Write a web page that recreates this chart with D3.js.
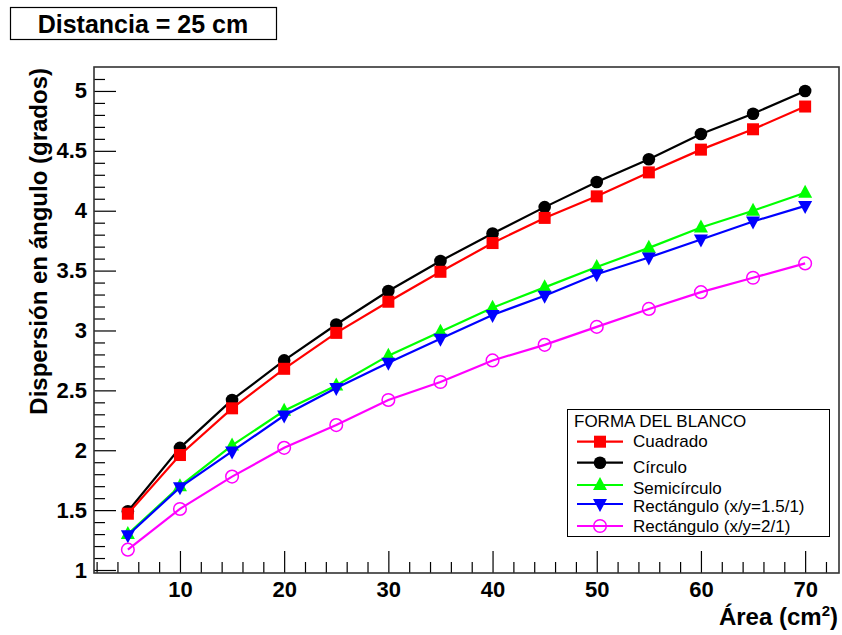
<!DOCTYPE html>
<html>
<head>
<meta charset="utf-8">
<script src="https://cdn.jsdelivr.net/npm/d3@7"></script>
<style>
  body { margin: 0; background: #fff; }
  svg { display: block; font-family: "Liberation Sans", Arial, sans-serif; }
</style>
</head>
<body>
<svg id="chart"></svg>
<script>
// datos
const area = [5, 10, 15, 20, 25, 30, 35, 40, 45, 50, 55, 60, 65, 70];
const cuadrado = [1.47, 1.96, 2.35, 2.68, 2.98, 3.24, 3.49, 3.73, 3.94, 4.12, 4.32, 4.51, 4.68, 4.87];
const circulo = [1.49, 2.02, 2.42, 2.75, 3.05, 3.33, 3.58, 3.81, 4.03, 4.24, 4.43, 4.64, 4.81, 5.00];
const semicirculo = [1.30, 1.70, 2.04, 2.33, 2.54, 2.79, 2.99, 3.19, 3.36, 3.53, 3.69, 3.86, 4.00, 4.15];
const rect15 = [1.29, 1.69, 1.99, 2.29, 2.52, 2.73, 2.93, 3.13, 3.29, 3.47, 3.61, 3.76, 3.91, 4.04];
const rect2 = [1.17, 1.51, 1.78, 2.02, 2.21, 2.42, 2.57, 2.75, 2.88, 3.03, 3.18, 3.32, 3.44, 3.56];

const nombres = ["Cuadrado", "Círculo", "Semicírculo", "Rectángulo (x/y=1.5/1)", "Rectángulo (x/y=2/1)"];
const xTicks = [10, 20, 30, 40, 50, 60, 70];
const yTicks = [1, 1.5, 2, 2.5, 3, 3.5, 4, 4.5, 5];

const wSvg = 842;
const hSvg = 635;
const frame = { left: 94, top: 67, right: 839, bottom: 573 };

const series = [
  { name: nombres[0], values: cuadrado, color: "#ff0000", marker: "square" },
  { name: nombres[1], values: circulo, color: "#000000", marker: "circle" },
  { name: nombres[2], values: semicirculo, color: "#00ff00", marker: "triangleUp" },
  { name: nombres[3], values: rect15, color: "#0000ff", marker: "triangleDown" },
  { name: nombres[4], values: rect2, color: "#ff00ff", marker: "openCircle" }
];
// orden de dibujo: el circulo negro queda debajo del cuadrado rojo
const drawOrder = [1, 0, 2, 3, 4];

const svg = d3.select("#chart")
  .attr("width", wSvg)
  .attr("height", hSvg);

svg.append("rect")
  .attr("width", wSvg)
  .attr("height", hSvg)
  .attr("fill", "#fff");

const x = d3.scaleLinear()
  .domain([1.75, 73.25])
  .range([frame.left, frame.right]);

const y = d3.scaleLinear()
  .domain([0.975, 5.2])
  .range([frame.bottom, frame.top]);

// ejes
const yMinor = d3.range(10, 52, 1).map(d => d / 10).filter(d => d % 0.5 !== 0);
const xMinor = d3.range(2, 74, 2).filter(d => d % 10 !== 0);

svg.append("g")
  .attr("transform", `translate(${frame.left},0)`)
  .call(d3.axisLeft(y).tickValues(yMinor).tickSize(-11).tickFormat(""))
  .call(g => g.select(".domain").remove());

svg.append("g")
  .attr("transform", `translate(${frame.left},0)`)
  .call(d3.axisLeft(y).tickValues(yTicks).tickSize(-22).tickPadding(7).tickFormat(d3.format("")))
  .call(g => g.select(".domain").remove())
  .selectAll("text")
  .attr("font-size", 22)
  .attr("font-weight", "bold")
  .attr("fill", "#000");

svg.append("g")
  .attr("transform", `translate(0,${frame.bottom})`)
  .call(d3.axisBottom(x).tickValues(xMinor).tickSize(-11).tickFormat(""))
  .call(g => g.select(".domain").remove());

svg.append("g")
  .attr("transform", `translate(0,${frame.bottom})`)
  .call(d3.axisBottom(x).tickValues(xTicks).tickSize(-22).tickPadding(8))
  .call(g => g.select(".domain").remove())
  .selectAll("text")
  .attr("font-size", 22)
  .attr("font-weight", "bold")
  .attr("fill", "#000");

svg.selectAll(".tick line").attr("stroke", "#000").attr("stroke-width", 1.2);

// marco
svg.append("rect")
  .attr("x", frame.left)
  .attr("y", frame.top)
  .attr("width", frame.right - frame.left)
  .attr("height", frame.bottom - frame.top)
  .attr("fill", "none")
  .attr("stroke", "#333")
  .attr("stroke-width", 1.6);

// titulos de ejes
svg.append("text")
  .attr("transform", `translate(47,${frame.top + 1}) rotate(-90)`)
  .attr("text-anchor", "end")
  .attr("font-size", 24)
  .attr("font-weight", "bold")
  .text("Dispersión en ángulo (grados)");

const xTitle = svg.append("text")
  .attr("x", 838)
  .attr("y", 625)
  .attr("text-anchor", "end")
  .attr("font-size", 24)
  .attr("font-weight", "bold");
xTitle.append("tspan").text("Área (cm");
xTitle.append("tspan").attr("font-size", 15).attr("dy", -9).text("2");
xTitle.append("tspan").attr("dy", 9).text(")");

// caja del titulo
svg.append("rect")
  .attr("x", 10.5)
  .attr("y", 7.5)
  .attr("width", 266)
  .attr("height", 32)
  .attr("fill", "#fff")
  .attr("stroke", "#000")
  .attr("stroke-width", 1.2);

svg.append("text")
  .attr("x", 143)
  .attr("y", 33)
  .attr("text-anchor", "middle")
  .attr("font-size", 25)
  .attr("font-weight", "bold")
  .text("Distancia = 25 cm");

function drawMarker(g, type, color, cx, cy) {
  if (type === "square") {
    g.append("rect")
      .attr("x", cx - 6).attr("y", cy - 6)
      .attr("width", 12).attr("height", 12)
      .attr("fill", color);
  } else if (type === "circle") {
    g.append("circle")
      .attr("cx", cx).attr("cy", cy).attr("r", 6.3)
      .attr("fill", color);
  } else if (type === "triangleUp") {
    g.append("path")
      .attr("d", `M${cx},${cy - 8}L${cx + 7},${cy + 5}L${cx - 7},${cy + 5}Z`)
      .attr("fill", color);
  } else if (type === "triangleDown") {
    g.append("path")
      .attr("d", `M${cx},${cy + 8}L${cx + 7},${cy - 5}L${cx - 7},${cy - 5}Z`)
      .attr("fill", color);
  } else {
    g.append("circle")
      .attr("cx", cx).attr("cy", cy).attr("r", 6.3)
      .attr("fill", "none")
      .attr("stroke", color)
      .attr("stroke-width", 1.5);
  }
}

const line = d3.line()
  .x(d => x(d.area))
  .y(d => y(d.value));

for (let i of drawOrder) {
  let s = series[i];
  let points = area.map((a, j) => ({ area: a, value: s.values[j] }));
  let g = svg.append("g");

  g.append("path")
    .datum(points)
    .attr("d", line)
    .attr("fill", "none")
    .attr("stroke", s.color)
    .attr("stroke-width", 2.2);

  for (let p of points) {
    drawMarker(g, s.marker, s.color, x(p.area), y(p.value));
  }
}

// leyenda
const legend = svg.append("g");

legend.append("rect")
  .attr("x", 567.5)
  .attr("y", 409.5)
  .attr("width", 262)
  .attr("height", 127)
  .attr("fill", "#fff")
  .attr("stroke", "#000")
  .attr("stroke-width", 1);

legend.append("text")
  .attr("x", 574)
  .attr("y", 427)
  .attr("font-size", 17)
  .text("FORMA DEL BLANCO");

const legendLineY = [441.7, 462.7, 485, 504, 526];
const legendTextY = [447, 473, 494, 512, 532];

series.forEach((s, i) => {
  legend.append("line")
    .attr("x1", 577).attr("x2", 623)
    .attr("y1", legendLineY[i]).attr("y2", legendLineY[i])
    .attr("stroke", s.color)
    .attr("stroke-width", 2.2);
  drawMarker(legend, s.marker, s.color, 600, legendLineY[i]);
  legend.append("text")
    .attr("x", 633)
    .attr("y", legendTextY[i])
    .attr("font-size", 17)
    .text(s.name);
});
</script>
</body>
</html>
